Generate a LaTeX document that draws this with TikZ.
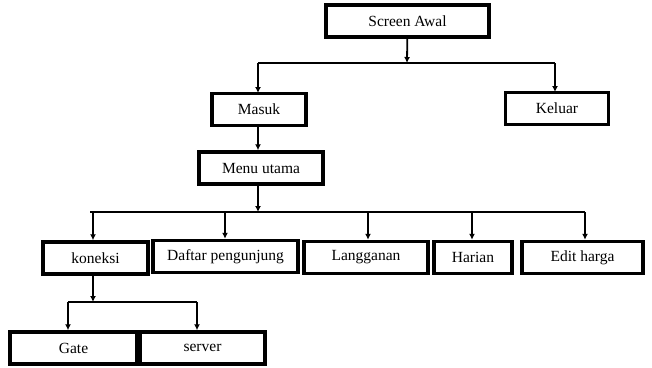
\documentclass[tikz,border=0pt]{standalone}
\usepackage{fontspec}
\setmainfont{Liberation Serif}
\usetikzlibrary{arrows.meta}
\tikzset{
  box/.style={draw,line width=3.5pt,inner sep=0pt,minimum height=32pt,font=\fontsize{15.5}{17}\selectfont},
  link/.style={line width=1.8pt},
  >={Latex[length=6pt,width=6pt]}
}
\begin{document}
\begin{tikzpicture}[x=1pt,y=-1pt]
\useasboundingbox (0,0) rectangle (652,367);

\node [box,minimum width=163pt] (awal) at (407.5,21) {Screen Awal};
\node [box,minimum width=94pt] (masuk) at (259,109.5) {Masuk};
\node [box,minimum width=103pt] (keluar) at (557,108.5) {Keluar};
\node [box,minimum width=124pt] (menu) at (261,168) {Menu utama};

\node [box,minimum width=105pt] (koneksi) at (95.5,258) {koneksi};
\node [box,minimum width=145pt] (daftar) at (225.5,256.5) {Daftar pengunjung};
\node [box,minimum width=124pt] (langganan) at (366,257.5) {Langganan};
\node [box,minimum width=78pt] (harian) at (473,257.5) {Harian};
\node [box,minimum width=121pt] (edit) at (582.5,257.5) {Edit harga};

\node [box,minimum width=127pt] (gate) at (73.5,348) {Gate};
\node [box,minimum width=125pt] (server) at (202.5,348) {server};

\coordinate (top) at (407,63);
\coordinate (mid) at (258,212);
\coordinate (low) at (93,302);

\draw [link,->] (awal) -- (top);
\draw [link] (258,63) -- (555,63);
\draw [link,->] (258,63) -- (258,93);
\draw [link,->] (555,63) -- (555,92);

\draw [link,->] (masuk.south -| 258,0) -- (menu.north -| 258,0);

\draw [link,->] (menu.south -| mid) -- (mid);
\draw [link] (90,212) -- (585,212);
\draw [link,->] (93,212) -- (koneksi.north -| 93,0);
\draw [link,->] (225,212) -- (daftar.north -| 225,0);
\draw [link,->] (368,212) -- (langganan.north -| 368,0);
\draw [link,->] (472,212) -- (harian.north -| 472,0);
\draw [link,->] (585,212) -- (edit.north -| 585,0);

\draw [link,->] (koneksi.south -| low) -- (low);
\draw [link] (68,302) -- (197,302);
\draw [link,->] (68,302) -- (gate.north -| 68,0);
\draw [link,->] (197,302) -- (server.north -| 197,0);

\end{tikzpicture}
\end{document}
